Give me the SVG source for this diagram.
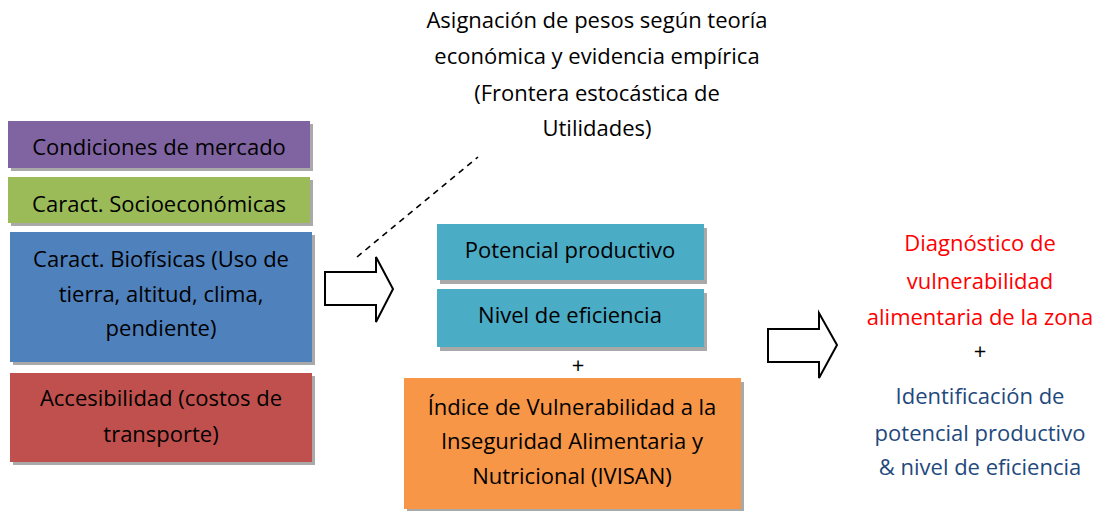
<svg xmlns="http://www.w3.org/2000/svg" width="1101" height="511" viewBox="0 0 1101 511">
<style>
text{font-family:"Open Sans","Noto Sans","Liberation Sans",sans-serif;font-size:22px;fill:#000;text-anchor:middle}
.sh{fill:#8c8c8c;opacity:0.75}
.red{fill:#FF0000}
.blu{fill:#1F497D}
.arr{fill:#fff;stroke:#000;stroke-width:2;stroke-linejoin:miter}
</style>
<rect width="1101" height="511" fill="#fff"/>
<g id="top-label">
<text x="597" y="28">Asignación de pesos según teoría</text>
<text x="597" y="64">económica y evidencia empírica</text>
<text x="597" y="101">(Frontera estocástica de</text>
<text x="597" y="136">Utilidades)</text>
</g>
<g id="mercado">
<rect class="sh" x="11" y="124" width="302" height="47"/>
<rect x="8" y="121" width="302" height="47" fill="#8064A2"/>
<text x="159" y="155">Condiciones de mercado</text>
</g>
<g id="socio">
<rect class="sh" x="11" y="180" width="302" height="46"/>
<rect x="8" y="177" width="302" height="46" fill="#9BBB59"/>
<text x="159" y="212">Caract. Socioeconómicas</text>
</g>
<g id="biofisicas">
<rect class="sh" x="13" y="235" width="302" height="130"/>
<rect x="10" y="232" width="302" height="130" fill="#4F81BD"/>
<text x="161" y="267">Caract. Biofísicas (Uso de</text>
<text x="161" y="302">tierra, altitud, clima,</text>
<text x="161" y="336">pendiente)</text>
</g>
<g id="accesibilidad">
<rect class="sh" x="13" y="376" width="302" height="89"/>
<rect x="10" y="373" width="302" height="89" fill="#C0504D"/>
<text x="161" y="406">Accesibilidad (costos de</text>
<text x="161" y="442">transporte)</text>
</g>
<g id="potencial">
<rect class="sh" x="440" y="228" width="267" height="56"/>
<rect x="437" y="224" width="267" height="56" fill="#4BACC6"/>
<text x="570" y="258">Potencial productivo</text>
</g>
<g id="nivel">
<rect class="sh" x="440" y="293" width="267" height="58"/>
<rect x="437" y="289" width="267" height="58" fill="#4BACC6"/>
<text x="570" y="323">Nivel de eficiencia</text>
</g>
<g id="plus1"><text x="578" y="373">+</text></g>
<g id="ivisan">
<rect class="sh" x="407" y="382" width="337" height="131"/>
<rect x="404" y="378" width="337" height="131" fill="#F79646"/>
<text x="572" y="415">Índice de Vulnerabilidad a la</text>
<text x="572" y="449">Inseguridad Alimentaria y</text>
<text x="572" y="484">Nutricional (IVISAN)</text>
</g>
<g id="resultado">
<text class="red" x="980" y="251">Diagnóstico de</text>
<text class="red" x="980" y="289">vulnerabilidad</text>
<text class="red" x="980" y="325">alimentaria de la zona</text>
<text x="980" y="359">+</text>
<text class="blu" x="980" y="404">Identificación de</text>
<text class="blu" x="980" y="441">potencial productivo</text>
<text class="blu" x="980" y="475">&amp; nivel de eficiencia</text>
</g>
<g id="connectors">
<line x1="357" y1="257" x2="478" y2="157" stroke="#000" stroke-width="1.6" stroke-dasharray="6,5"/>
<path class="arr" d="M325,272 H376 V257 L393,289 L376,322 V305 H325 Z"/>
<path class="arr" d="M768,329 H819 V313 L837,345 L819,378 V362 H768 Z"/>
</g>
</svg>
